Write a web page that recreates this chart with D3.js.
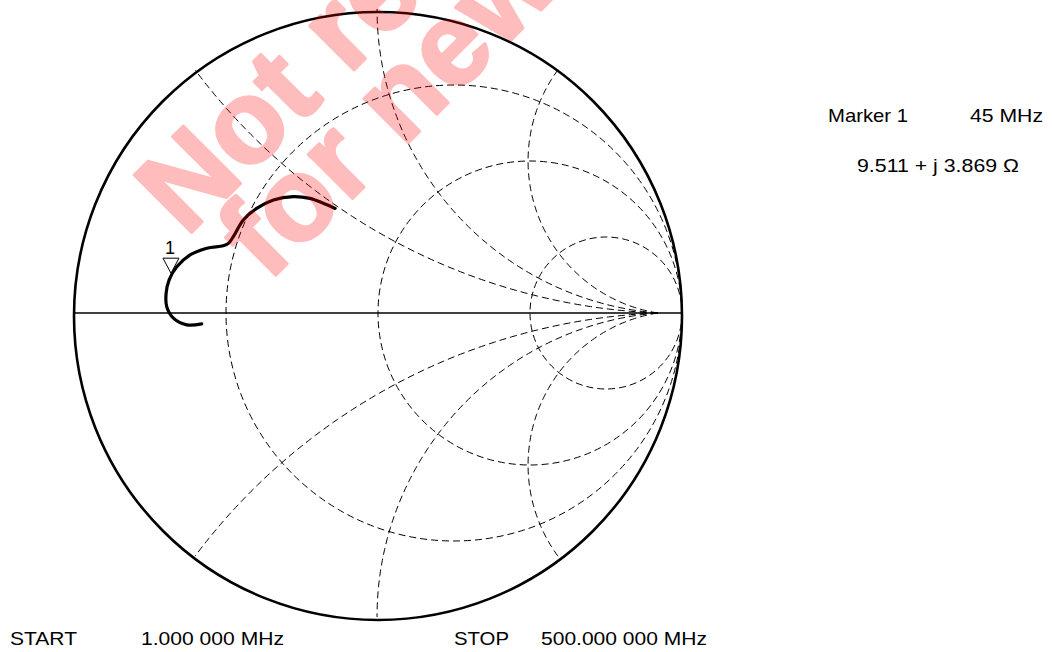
<!DOCTYPE html>
<html>
<head>
<meta charset="utf-8">
<script src="https://cdn.jsdelivr.net/npm/d3@7"></script>
<style>
  body { margin: 0; background: #fff; }
  text { font-family: "Liberation Sans", Arial, sans-serif; }
</style>
</head>
<body>
<div id="chart"></div>
<script>
// chart size and smith chart placement
var width = 1052,
    height = 652;
var cx = 378, cy = 313, radius = 304;

// grid values (normalised resistance / reactance)
var resistance = [1 / 3, 1, 3];
var reactance = [0.5, 1, 2, -0.5, -1, -2];
var arcMeet = 0.92; // reactance arcs meet here on the real axis

// measured trace, reflection coefficient (real / imaginary), 1 MHz .. 500 MHz
var gammaRe = [-0.580, -0.629, -0.673, -0.695, -0.697, -0.687, -0.662, -0.618, -0.563, -0.509,
               -0.492, -0.476, -0.443, -0.399, -0.344, -0.279, -0.224, -0.180, -0.141];
var gammaIm = [-0.036, -0.039, -0.017, 0.021, 0.065, 0.109, 0.152, 0.191, 0.213, 0.221,
               0.229, 0.251, 0.306, 0.344, 0.372, 0.383, 0.377, 0.361, 0.344];

// marker 1
var markerGamma = [-0.681, 0.131];
var markerLabel = "1";
var markerText = ["Marker 1", "45 MHz"];
var markerValue = "9.511 + j 3.869 \u03A9";
var sweepLabels = ["START", "1.000 000 MHz", "STOP", "500.000 000 MHz"];
var watermark = ["Not recommended", "for new designs"];

var x = d3.scaleLinear().domain([-1, 1]).range([cx - radius, cx + radius]);
var y = d3.scaleLinear().domain([-1, 1]).range([cy + radius, cy - radius]);

var svg = d3.select("#chart").append("svg")
    .attr("width", width)
    .attr("height", height);

svg.append("clipPath").attr("id", "inside")
  .append("circle")
    .attr("cx", x(0)).attr("cy", y(0)).attr("r", x(1) - x(0));

var grid = svg.append("g").attr("clip-path", "url(#inside)")
    .attr("fill", "none")
    .attr("stroke", "#000")
    .attr("stroke-width", 1)
    .attr("stroke-dasharray", "7,4");

// constant resistance circles
grid.selectAll(".rcircle")
  .data(resistance)
  .enter().append("circle")
    .attr("class", "rcircle")
    .attr("cx", function(r) { return x(r / (r + 1)); })
    .attr("cy", y(0))
    .attr("r", function(r) { return x(1 / (r + 1)) - x(0); });

// constant reactance arcs, from the real axis out to the rim
function reactancePath(xv) {
  var b = 1 / xv, d = 1 - arcMeet;
  var rr = Math.sqrt(b * b + d * d);
  var t0 = Math.atan2(-b, -d);
  var a = 1 - d * d / 2;
  var s = b > 0 ? 1 : -1;
  var ve = (a * b + s * Math.sqrt(1 - a * a + b * b)) / (1 + b * b);
  var ue = a - b * ve;
  var t1 = Math.atan2(ve - b, ue - 1);
  if (b > 0) { while (t1 > t0) t1 -= 2 * Math.PI; }
  else { while (t1 < t0) t1 += 2 * Math.PI; }
  var pts = d3.range(0, 1.0001, 1 / 120).map(function(k) {
    var t = t0 + (t1 - t0) * k;
    return [1 + rr * Math.cos(t), b + rr * Math.sin(t)];
  });
  return d3.line().x(function(p) { return x(p[0]); }).y(function(p) { return y(p[1]); })(pts);
}

grid.selectAll(".xarc")
  .data(reactance)
  .enter().append("path")
    .attr("class", "xarc")
    .attr("d", reactancePath);

// real axis
svg.append("line")
    .attr("x1", x(-1)).attr("x2", x(1))
    .attr("y1", y(0)).attr("y2", y(0))
    .attr("stroke", "#000")
    .attr("stroke-width", 1.3);

// outer rim
svg.append("circle")
    .attr("cx", x(0)).attr("cy", y(0) + 3).attr("r", x(1) - x(0))
    .attr("fill", "none")
    .attr("stroke", "#000")
    .attr("stroke-width", 2.6);

// the trace
var trace = d3.zip(gammaRe, gammaIm);
svg.append("path")
    .datum(trace)
    .attr("fill", "none")
    .attr("stroke", "#000")
    .attr("stroke-width", 3.2)
    .attr("stroke-linecap", "round")
    .attr("d", d3.line()
      .x(function(d) { return x(d[0]); })
      .y(function(d) { return y(d[1]); })
      .curve(d3.curveCatmullRom));

// marker triangle + number
var mx = x(markerGamma[0]), my = y(markerGamma[1]);
svg.append("path")
    .attr("d", "M" + mx + "," + my + "L" + (mx - 8) + "," + (my - 15) + "L" + (mx + 8) + "," + (my - 15) + "Z")
    .attr("fill", "#fff")
    .attr("stroke", "#000")
    .attr("stroke-width", 1);
svg.append("text")
    .attr("x", mx - 1).attr("y", my - 19)
    .attr("text-anchor", "middle")
    .style("font-size", "18px")
    .text(markerLabel);

// marker readout
svg.append("text").attr("x", 828).attr("y", 122)
    .attr("textLength", 80).attr("lengthAdjust", "spacingAndGlyphs")
    .style("font-size", "18.5px").text(markerText[0]);
svg.append("text").attr("x", 970).attr("y", 122)
    .attr("textLength", 73).attr("lengthAdjust", "spacingAndGlyphs")
    .style("font-size", "18.5px").text(markerText[1]);
svg.append("text").attr("x", 857).attr("y", 172)
    .attr("textLength", 162).attr("lengthAdjust", "spacingAndGlyphs")
    .style("font-size", "18.5px").text(markerValue);

// sweep range
var sweepX = [10, 141, 454, 541], sweepW = [67, 143, 55, 166];
svg.selectAll(".sweep")
  .data(sweepLabels)
  .enter().append("text")
    .attr("class", "sweep")
    .attr("x", function(d, i) { return sweepX[i]; })
    .attr("y", 645)
    .attr("textLength", function(d, i) { return sweepW[i]; })
    .attr("lengthAdjust", "spacingAndGlyphs")
    .style("font-size", "18.5px")
    .text(function(d) { return d; });

// watermark on top
var wm = svg.append("g").attr("opacity", 0.26)
    .attr("fill", "#ff0000").attr("stroke", "#ff0000").attr("stroke-width", 3)
    .attr("stroke-linejoin", "round");
var wmPos = [[186, 238], [268, 283]];
wm.selectAll("text")
  .data(watermark)
  .enter().append("text")
    .attr("transform", function(d, i) { return "translate(" + wmPos[i][0] + "," + wmPos[i][1] + ") rotate(-45)"; })
    .style("font-size", "118px")
    .style("font-weight", "bold")
    .text(function(d) { return d; });
</script>
</body>
</html>
